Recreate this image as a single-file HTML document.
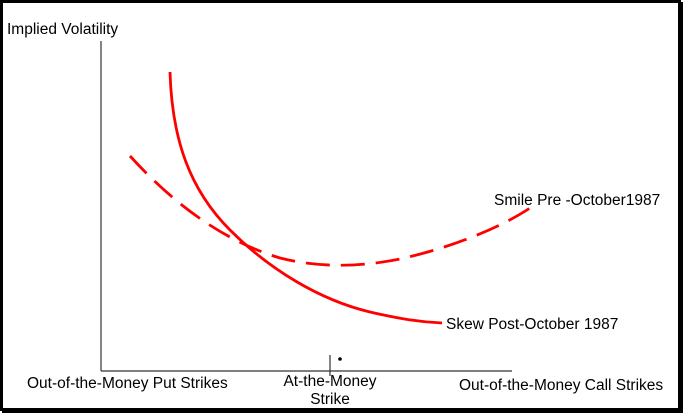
<!DOCTYPE html>
<html><head><style>
body{margin:0;width:684px;height:413px;overflow:hidden;background:#fff;font-family:"Liberation Sans",sans-serif;}
</style></head><body>
<svg width="684" height="413" xmlns="http://www.w3.org/2000/svg" style="position:absolute;left:0;top:0">
<rect x="1.5" y="1.5" width="678" height="408" fill="#fff" stroke="#000" stroke-width="3"/>
<rect x="679" y="2" width="4" height="410" fill="#000"/>
<rect x="2" y="409" width="681" height="4" fill="#000"/>
<line x1="101" y1="41" x2="101" y2="371" stroke="#333" stroke-width="1.2"/>
<line x1="101" y1="371" x2="512" y2="371" stroke="#333" stroke-width="1.2"/>
<line x1="330" y1="355" x2="330" y2="376" stroke="#333" stroke-width="1.2"/>
<circle cx="340" cy="359" r="1.8" fill="#000"/>
<path d="M170,72 C172,140 190,190 230,230 C270,270 320,300 370,312 C400,319 420,322 442,323" fill="none" stroke="#f00" stroke-width="2.8"/>
<path d="M130,156 C170,200 220,240 280,258 C320,268 360,267 400,259 C450,248 500,228 530,208" fill="none" stroke="#f00" stroke-width="2.8" stroke-dasharray="24,11"/>
<g font-size="15.5" fill="#000">
<text x="7" y="34">Implied Volatility</text>
<text x="27" y="388">Out-of-the-Money Put Strikes</text>
<text x="330" y="386" text-anchor="middle">At-the-Money</text>
<text x="330" y="404" text-anchor="middle">Strike</text>
<text x="459" y="390">Out-of-the-Money Call Strikes</text>
<text x="494" y="205">Smile Pre -October1987</text>
<text x="446" y="329">Skew Post-October 1987</text>
</g>
</svg>
</body></html>
